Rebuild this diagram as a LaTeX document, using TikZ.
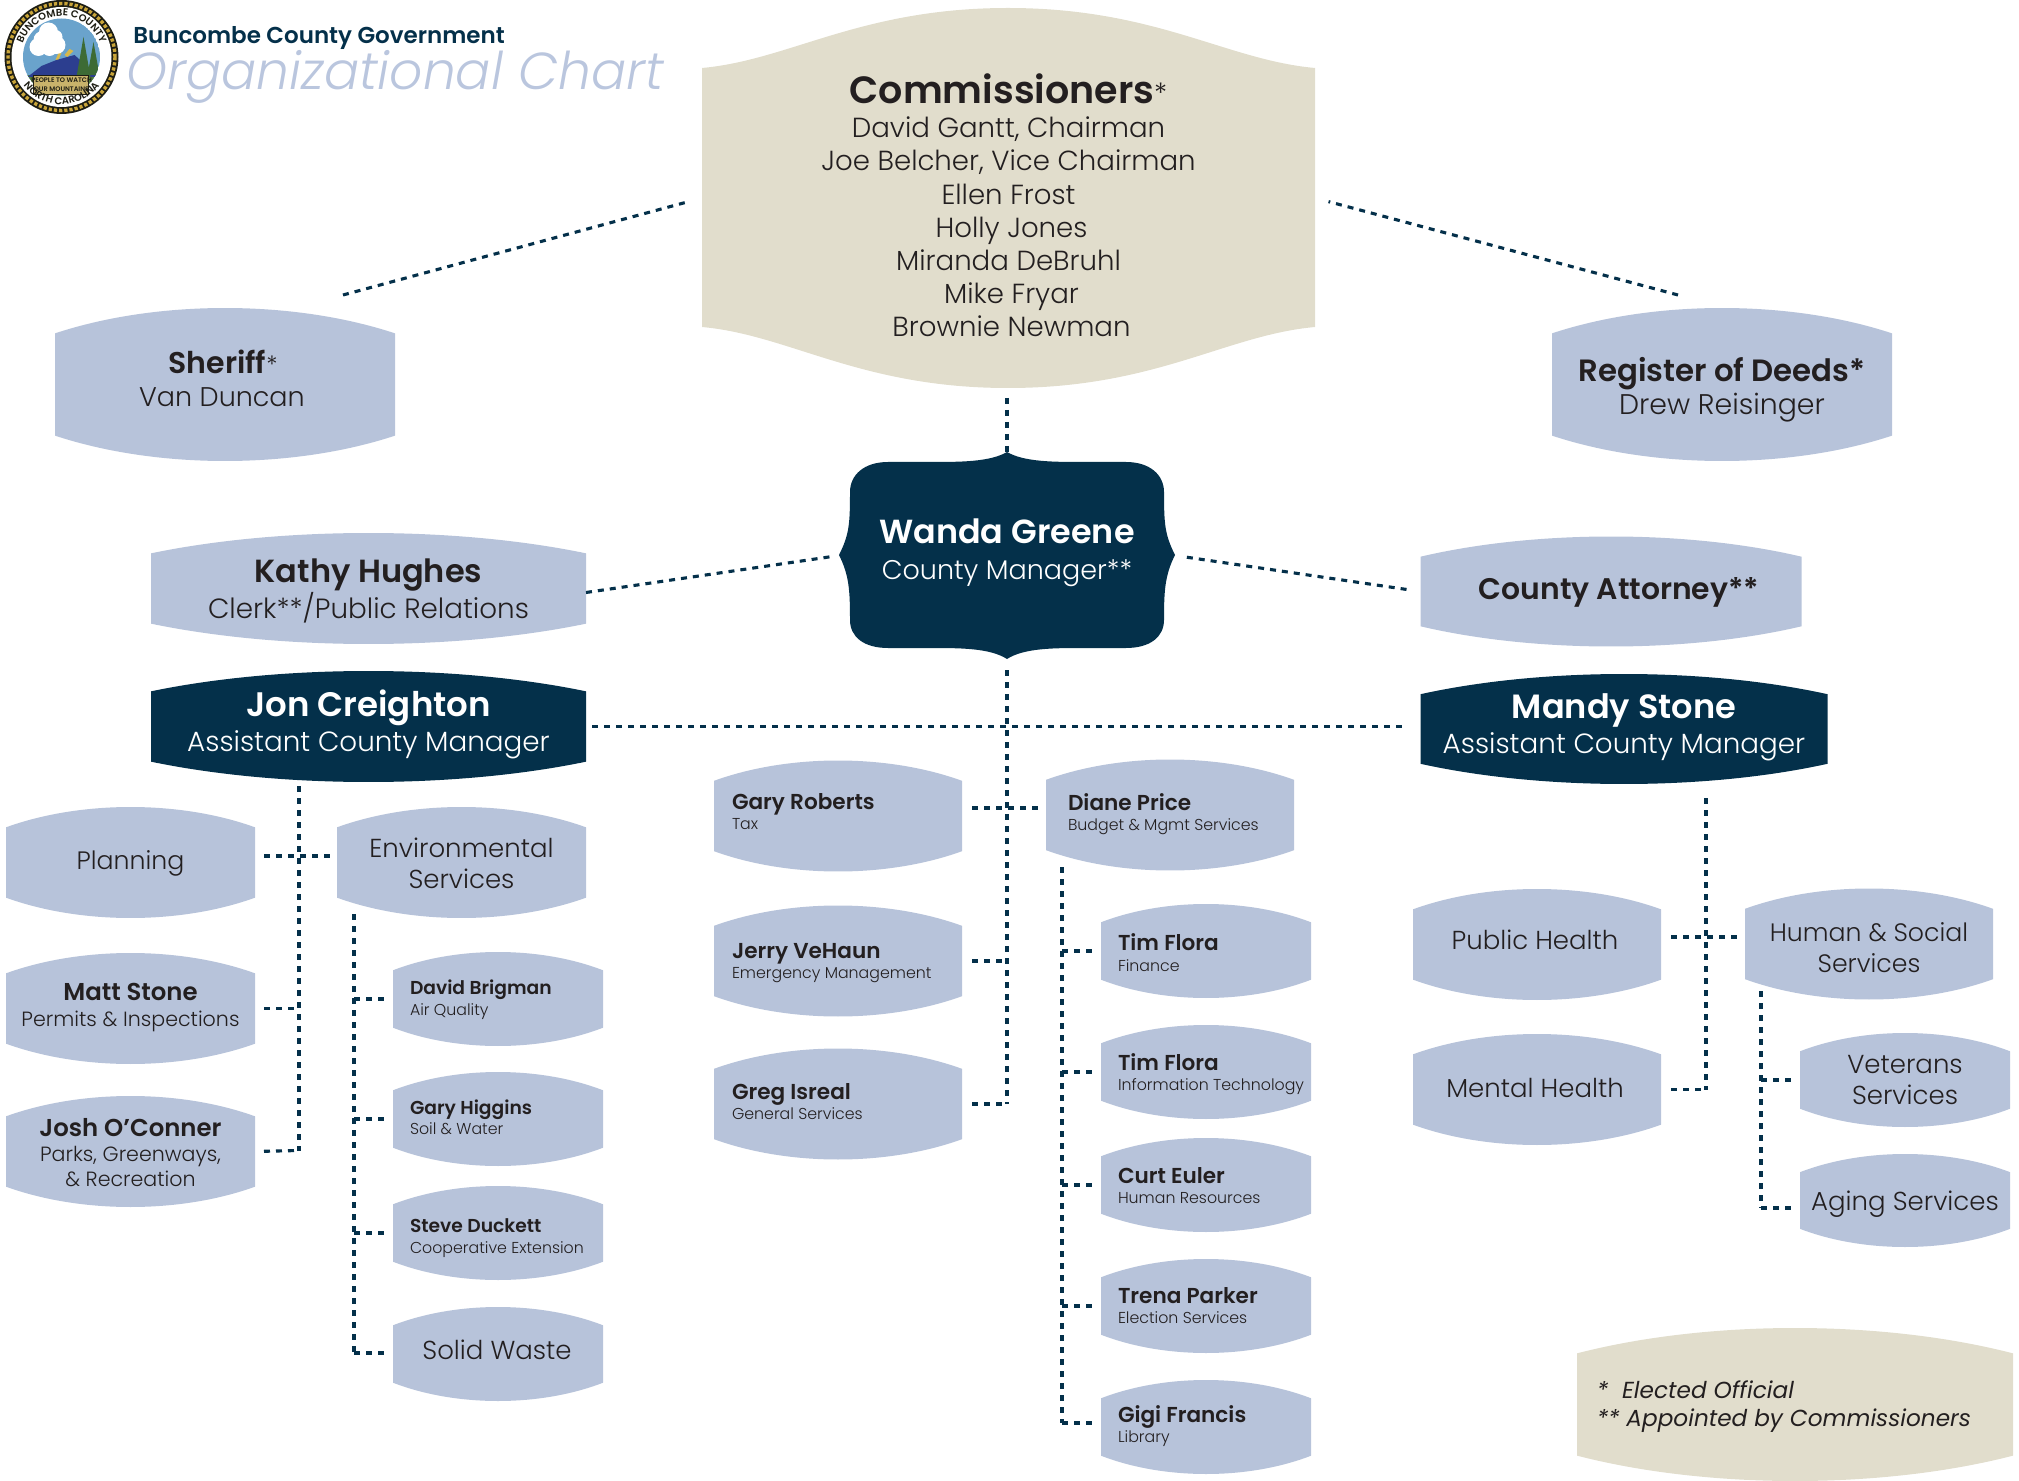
\documentclass[tikz,border=0pt]{standalone}
\usepackage{fontspec}
\usepackage{array}
\setmainfont{Poppins}
\newfontfamily\fL{Poppins Light}[ItalicFont=Poppins Light Italic]
\newfontfamily\fB{Poppins SemiBold}
\usetikzlibrary{calc,decorations.text}
\definecolor{navy}{HTML}{04304A}
\definecolor{bluefill}{HTML}{B7C3DA}
\definecolor{darkfill}{HTML}{04304A}
\definecolor{beigefill}{HTML}{E1DDCC}
\definecolor{ink}{HTML}{231F20}
\definecolor{paleblue}{HTML}{BAC6DE}
\definecolor{sealsky}{HTML}{6AA3CC}
\definecolor{sealgold}{HTML}{C9A53A}
\definecolor{sealdark}{HTML}{1E1E14}
\definecolor{sealgreen}{HTML}{4F7A3A}
\definecolor{sealtree}{HTML}{3D6B35}
\definecolor{sealmount}{HTML}{2C3E8F}
\definecolor{sealban}{HTML}{C9B36B}
\definecolor{sealray}{HTML}{D8B84A}
\tikzset{
  bluetxt/.style={text=ink},
  darktxt/.style={text=white},
  beigetxt/.style={text=ink},
  boxnode/.style={inner sep=0pt,outer sep=0pt,align=center},
  conn/.style={draw=navy,line width=1.55pt,dash pattern=on 3pt off 3pt}
}
\newcommand\lensshape[5]{%
  \pgfmathsetmacro\xa{#1-#3/2}\pgfmathsetmacro\xb{#1+#3/2}%
  \pgfmathsetmacro\ya{#2-#4/2}\pgfmathsetmacro\yb{#2+#4/2}%
  \pgfmathsetmacro\sg{0.12*#4+7}%
  \pgfmathsetmacro\ca{\xa+0.3*#3}\pgfmathsetmacro\cb{\xb-0.3*#3}%
  \fill[#5] (\xa,\ya+\sg) .. controls (\ca,\ya-0.333*\sg) and (\cb,\ya-0.333*\sg) .. (\xb,\ya+\sg)
    -- (\xb,\yb-\sg) .. controls (\cb,\yb+0.333*\sg) and (\ca,\yb+0.333*\sg) .. (\xa,\yb-\sg) -- cycle;}
% name cx cy w h kind L(pt) dy(px) content
\newcommand\lensbox[9]{%
  \lensshape{#2}{#3}{#4}{#5}{fill=#6fill}%
  \node[boxnode,#6txt,minimum width=#4*0.5pt,minimum height=#5*0.5pt] (#1) at (#2,#3)
   {\raisebox{\dimexpr(#8pt + 7.7pt)/-2\relax}[0pt][0pt]{\fontsize{10}{#7}\selectfont\begin{tabular}[c]{@{}c@{}}#9\end{tabular}}};}
% left aligned: name cx cy w h kind offset(px) dy(px) content
\newcommand\curL{10.3}
\newcommand\lensleft[9]{%
  \lensshape{#2}{#3}{#4}{#5}{fill=#6fill}%
  \node[boxnode,#6txt,minimum width=#4*0.5pt,minimum height=#5*0.5pt] (#1) at (#2,#3)
   {\makebox[\dimexpr#4pt/2\relax][l]{\hspace*{\dimexpr#7pt/2\relax}\raisebox{\dimexpr(#8pt + 6.5pt)/-2\relax}[0pt][0pt]{\fontsize{10}{\curL}\selectfont\begin{tabular}[c]{@{}l@{}}#9\end{tabular}}}};}
\newcommand\bigname[1]{{\fB\fontsize{16.7}{18}\selectfont #1}}
\newcommand\midname[2]{{\fB\fontsize{#1}{18}\selectfont #2}}
\newcommand\sname[1]{{\fB\fontsize{12.2}{14}\selectfont #1}}
\newcommand\mname[2]{{\fB\fontsize{#1}{16}\selectfont #2}}
\newcommand\bigsub[1]{{\fL\fontsize{13.9}{16}\selectfont #1}}
\newcommand\msub[1]{{\fL\fontsize{10.3}{12}\selectfont #1}}
\newcommand\ssub[1]{\smash{\fL\fontsize{7.9}{10}\selectfont #1}}
\newcommand\solo[2][13]{{\fL\fontsize{#1}{15}\selectfont #2}}
\newcommand\lname[1]{\smash{\fB\fontsize{9.35}{11}\selectfont #1}}
\newcommand\rname[1]{\smash{\fB\fontsize{10.8}{11}\selectfont #1}}
\begin{document}
\begin{tikzpicture}[x=0.5pt,y=-0.5pt]
\useasboundingbox (0,0) rectangle (2019,1481);
% seal
\begin{scope}[shift={(61.5,57)},x=0.5pt,y=0.5pt]
  \fill[sealdark] (0,0) circle (57);
  \draw[line width=1.7pt,color=sealgold,dash pattern=on 1.6pt off 1pt] (0,0) circle (53.5);
  \fill[white] (0,0) circle (50);
  \begin{scope}
    \clip (0,0) circle (38.5);
    \fill[sealsky] (0,0) circle (38.5);
    \fill[sealgreen] (-40,-18) rectangle (40,-40);
    \fill[sealray] (-6,-3) -- (-3,4) -- (0,4) -- (-3,-3) -- cycle;
    \fill[sealray] (3,2) -- (8,8) -- (12,6) -- (6,0) -- cycle;
    \fill[white] (-23,10) circle (9) (-13,25) circle (9.5) (-19,17) circle (9) (-5,12) circle (9) (-12,9) circle (8) (-6,20) circle (7);
    \fill[sealmount] (-34,-20) -- (-20,-9) -- (-5,-3) -- (13,2) -- (22,-6) -- (38,-20) -- cycle;
    \fill[sealtree] (22,20) -- (29,-20) -- (15,-20) -- cycle;
    \fill[sealtree] (32,15) -- (38,-18) -- (26,-18) -- cycle;
  \end{scope}
  \fill[sealban,draw=sealdark,line width=0.3pt] (-28,-18) rectangle (27,-37);
  \node[inner sep=0pt,align=center,text=sealdark,font=\fB\fontsize{3.3}{4.6}\selectfont] (seal) at (0,-27.5) {PEOPLE TO WATCH\\OUR MOUNTAINS};
  \path[decorate,decoration={text along path,text align=center,text color=sealdark,text={|\fontsize{5}{6}\selectfont\fB|BUNCOMBE COUNTY}}] (172:41) arc (172:8:41);
  \path[decorate,decoration={text along path,text align=center,text color=sealdark,text={|\fontsize{5}{6}\selectfont\fB|NORTH CAROLINA}}] (205:47.5) arc (205:335:47.5);
\end{scope}
\node[anchor=west,inner sep=0pt,text=navy,font=\fB\fontsize{11.5}{14}\selectfont] (org) at (133,38) {Buncombe County Government};
\node[anchor=west,inner sep=0pt,text=paleblue,font=\fL\itshape\fontsize{26}{28}\selectfont] (title) at (126,77) {Organizational Chart};
% commissioners
\fill[beigefill] (702,68) .. controls (790,60) and (860,8) .. (1008,8) .. controls (1156,8) and (1226,60) .. (1315,68)
  -- (1315,327) .. controls (1226,335) and (1156,388) .. (1008,388) .. controls (860,388) and (790,335) .. (702,327) -- cycle;
\node[boxnode,text=ink,minimum width=306.5pt,minimum height=190pt] (comm) at (1008.5,198)
 {\raisebox{-9.6pt}[0pt][0pt]{\fontsize{13.8}{16.6}\selectfont\fL\begin{tabular}[c]{@{}c@{}}
   {\fB\fontsize{19}{20}\selectfont Commissioners}{\fL\fontsize{14}{14}\selectfont *}\\[0.7pt]
   David Gantt, Chairman\\ Joe Belcher, Vice Chairman\\ Ellen Frost\\ \hspace*{3pt}Holly Jones\\ Miranda DeBruhl\\ \hspace*{3pt}Mike Fryar\\ \hspace*{3pt}Brownie Newman
 \end{tabular}}};
% manager
\fill[darkfill] (1007,452) .. controls (990,462) and (960,462) .. (930,462) -- (888,462)
  .. controls (864,462) and (850,475) .. (850,492) .. controls (850,525) and (849,535) .. (839,555)
  .. controls (849,575) and (850,590) .. (850,620) .. controls (850,637) and (864,648) .. (888,648) -- (930,648)
  .. controls (960,648) and (990,648) .. (1007,659) .. controls (1024,648) and (1054,648) .. (1084,648) -- (1126,648)
  .. controls (1150,648) and (1164,637) .. (1164,620) .. controls (1164,590) and (1165,575) .. (1175,555)
  .. controls (1165,535) and (1164,525) .. (1164,492) .. controls (1164,475) and (1150,462) .. (1126,462) -- (1084,462)
  .. controls (1054,462) and (1024,462) .. (1007,452) -- cycle;
\node[boxnode,text=white,minimum width=168pt,minimum height=103.5pt] (wanda) at (1007,555.5)
 {\raisebox{-2.1pt}[0pt][0pt]{\fontsize{10}{18}\selectfont\begin{tabular}[c]{@{}c@{}}\bigname{Wanda Greene}\\ {\fL\fontsize{13.5}{16}\selectfont County Manager**}\end{tabular}}};
% lens boxes
\lensbox{sheriff}{225}{384.5}{340}{153}{blue}{16.5}{-4.5}{\hspace*{-2pt}\mname{15}{Sheriff}{\fL\fontsize{12}{12}\selectfont *}\\ \hspace*{-3pt}{\fL\fontsize{13.5}{16}\selectfont Van Duncan}}
\lensbox{register}{1722}{384.5}{340}{153}{blue}{16.5}{4}{\mname{15.4}{Register of Deeds*}\\ {\fL\fontsize{14.2}{16}\selectfont Drew Reisinger}}
\lensbox{kathy}{368.5}{588.5}{435}{111}{blue}{15.5}{2}{\midname{16}{Kathy Hughes}\\ \bigsub{Clerk**/Public Relations}}
\lensbox{attorney}{1611}{591.5}{381}{110}{blue}{17}{-2}{\hspace*{8pt}\mname{14.9}{County Attorney**}}
\lensbox{jon}{368.5}{726.5}{435}{111}{dark}{17.5}{-3}{\midname{17}{Jon Creighton}\\ \bigsub{Assistant County Manager}}
\lensbox{mandy}{1624}{729}{407}{110}{dark}{17.5}{-3}{\midname{16.8}{Mandy Stone}\\ \bigsub{Assistant County Manager}}
\lensbox{planning}{130.5}{862.5}{249}{111}{blue}{15.5}{-2}{\solo[12.6]{Planning}}
\lensbox{env}{461.5}{862.5}{249}{111}{blue}{15.5}{2}{\solo{Environmental}\\ \solo{Services}}
\lensbox{matt}{130.5}{1008.5}{249}{111}{blue}{13}{-2.6}{\sname{Matt Stone}\\ \msub{Permits \& Inspections}}
\lensbox{josh}{130.5}{1151.5}{249}{111}{blue}{12.5}{2}{\sname{Josh O’Conner}\\ \msub{Parks, Greenways,}\\ \msub{\& Recreation}}
\lensleft{david}{498}{999}{210}{94}{blue}{17}{0.5}{\lname{David Brigman}\\ \ssub{Air Quality}}
\lensleft{garyh}{498}{1119}{210}{94}{blue}{17}{0}{\lname{Gary Higgins}\\ \ssub{Soil \& Water}}
\lensleft{steve}{498}{1233}{210}{94}{blue}{17}{4.5}{\lname{Steve Duckett}\\ \ssub{Cooperative Extension}}
\lensbox{solid}{498}{1354}{210}{94}{blue}{15}{-3}{\hspace*{-1pt}\solo{Solid Waste}}
\lensleft{garyr}{838}{816}{248}{111}{blue}{18}{-2}{\rname{Gary Roberts}\\ \ssub{Tax}}
\lensleft{diane}{1170}{815}{248}{111}{blue}{22}{0}{\rname{Diane Price}\\ \ssub{Budget \& Mgmt Services}}
\lensleft{jerry}{838}{961}{248}{111}{blue}{18}{2}{\rname{Jerry VeHaun}\\ \ssub{Emergency Management}}
\lensleft{greg}{838}{1104}{248}{111}{blue}{18}{0}{\rname{Greg Isreal}\\ \ssub{General Services}}
\lensleft{tima}{1206}{951}{210}{94}{blue}{17}{4.5}{\rname{Tim Flora}\\ \ssub{Finance}}
\lensleft{timb}{1206}{1072}{210}{94}{blue}{17}{3}{\rname{Tim Flora}\\ \ssub{Information Technology}}
\lensleft{curt}{1206}{1185}{210}{94}{blue}{17}{3}{\rname{Curt Euler}\\ \ssub{Human Resources}}
\lensleft{trena}{1206}{1306}{210}{94}{blue}{17}{2}{\rname{Trena Parker}\\ \ssub{Election Services}}
\lensleft{gigi}{1206}{1427}{210}{94}{blue}{17}{0}{\rname{Gigi Francis}\\ \ssub{Library}}
\lensbox{public}{1537}{944.5}{248}{111}{blue}{15.5}{-4}{\hspace*{-2pt}\solo{Public Health}}
\lensbox{human}{1869}{944}{248}{111}{blue}{15.5}{4}{\solo[12.6]{Human \& Social}\\ \solo[12.6]{Services}}
\lensbox{mental}{1537}{1089.5}{248}{111}{blue}{15.5}{-1}{\hspace*{-2pt}\solo{Mental Health}}
\lensbox{veterans}{1905}{1080}{210}{94}{blue}{15.5}{0}{\solo{Veterans}\\ \solo{Services}}
\lensbox{aging}{1905}{1200.5}{210}{93}{blue}{15.5}{1}{\solo{Aging Services}}
\renewcommand\curL{14}
\lensleft{legend}{1795}{1404.5}{436}{153}{beige}{20}{1.2}{{\rmfamily\itshape\fontsize{11.6}{14}\selectfont *\ \ Elected Official}\\ {\rmfamily\itshape\fontsize{11.6}{14}\selectfont ** Appointed by Commissioners}}
% connectors
\coordinate (sherifftip) at (343,295);
\coordinate (regtip) at (1678,295);
\draw[conn,shorten >=8pt] (sherifftip) -- (comm.west);
\draw[conn,shorten >=7pt] (regtip) -- (comm.east);
\draw[conn,shorten <=5pt] (comm.south -| wanda.north) -- (wanda.north);
\draw[conn,shorten >=4.5pt] ($(kathy.east)+(0,4)$) -- (wanda.west);
\draw[conn,shorten <=6pt,shorten >=7pt] (wanda.east) -- (attorney.west);
\draw[conn,shorten <=3pt,shorten >=7pt] (jon.east) -- (jon.east -| mandy.west);
\coordinate (trunkend) at (greg.east -| wanda.south);
\draw[conn,shorten <=5.5pt] (wanda.south) -- (trunkend);
\draw[conn] ($(garyr.east)+(10,-8)$) -- ($(diane.west)+(-6,-7)$);
\draw[conn,shorten <=5pt] (jerry.east) -- (jerry.east -| wanda.south);
\draw[conn,shorten <=5pt] (greg.east) -- (trunkend);
% Diane's branch
\coordinate (dtop) at (1062,867);
\coordinate (dbot) at (1062,1423);
\draw[conn] (dtop) -- (dbot);
\foreach \n in {tima,timb,curt,trena}{\draw[conn,shorten >=2pt] (dtop |- \n.west) -- (\n.west);}
\draw[conn,shorten >=2pt] (dbot) -- (dbot -| gigi.west);
% Jon's branch
\coordinate (jtop) at (299,786);
\coordinate (jbot) at ($(josh.east -| jtop)+(0,-1)$);
\draw[conn] (jtop) -- (jbot);
\draw[conn] ($(planning.east)+(9,-6.5)$) -- ($(env.west)+(-5,-6.5)$);
\draw[conn,shorten <=4.5pt] (matt.east) -- (matt.east -| jtop);
\draw[conn,shorten <=4.5pt] (josh.east) -- (jbot);
% Environmental branch
\coordinate (etop) at (354,914);
\coordinate (ebot) at (354,1353);
\draw[conn] (etop) -- (ebot);
\foreach \n in {david,garyh,steve}{\draw[conn,shorten >=3pt] (etop |- \n.west) -- (\n.west);}
\draw[conn,shorten >=3pt] (ebot) -- (ebot -| solid.west);
% Mandy's branch
\coordinate (mtop) at (1706,798);
\coordinate (mbot) at (mental.east -| mtop);
\draw[conn] (mtop) -- (mbot);
\draw[conn] ($(public.east)+(10,-7.5)$) -- ($(human.west)+(-5,-7)$);
\draw[conn,shorten <=5pt] (mental.east) -- (mbot);
% Human services branch
\coordinate (htop) at (1761,991);
\coordinate (hbot) at (1761,1208);
\draw[conn] (htop) -- (hbot);
\draw[conn,shorten >=2pt] (htop |- veterans.west) -- (veterans.west);
\draw[conn,shorten >=2pt] (hbot) -- (hbot -| aging.west);
\end{tikzpicture}
\end{document}
